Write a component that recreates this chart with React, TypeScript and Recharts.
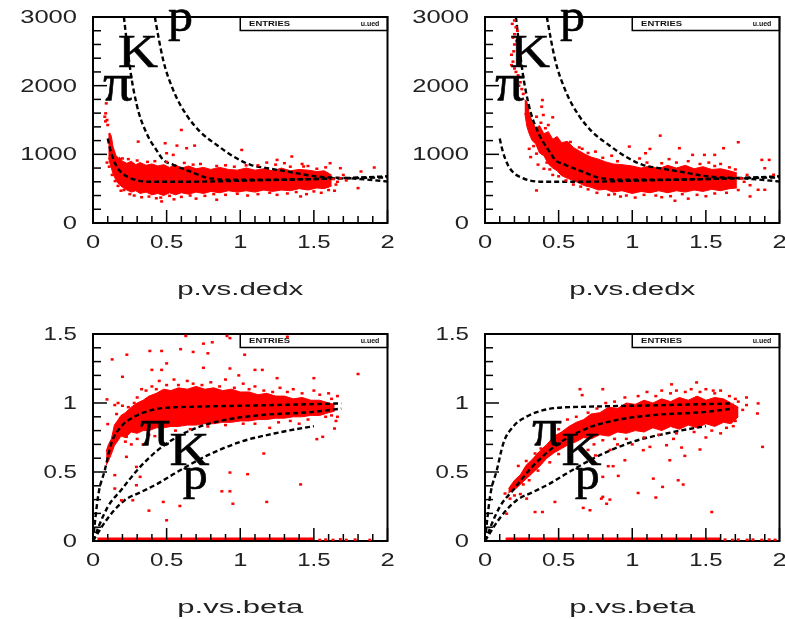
import { ComposedChart, Area, Line, Scatter, XAxis, YAxis, ReferenceArea, ReferenceDot, Label } from 'recharts';

type Pt = { x: number; y: number };
const pts = (rows: number[][]): Pt[] => rows.map(([x, y]) => ({ x, y }));
const band = (rows: number[][]) => rows.map(([x, low, high]) => ({ x, range: [low, high] }));

const xTicks = [0, 0.1, 0.2, 0.3, 0.4, 0.5, 0.6, 0.7, 0.8, 0.9, 1, 1.1, 1.2, 1.3, 1.4, 1.5, 1.6, 1.7, 1.8, 1.9, 2];
const dedxTicks = [0, 200, 400, 600, 800, 1000, 1200, 1400, 1600, 1800, 2000, 2200, 2400, 2600, 2800, 3000];
const betaTicks = [0, 0.1, 0.2, 0.3, 0.4, 0.5, 0.6, 0.7, 0.8, 0.9, 1, 1.1, 1.2, 1.3, 1.4, 1.5];

// theory curves, dE/dx
const dedxPi = pts([[0.1, 1230], [0.12, 1050], [0.15, 870], [0.2, 720], [0.25, 660], [0.3, 620], [0.4, 600], [0.6, 600], [0.8, 605], [1, 615], [1.5, 640], [2, 665]]);
const dedxK = pts([[0.21, 3000], [0.26, 2130], [0.295, 1740], [0.364, 1306], [0.43, 1065], [0.477, 920], [0.545, 847], [0.66, 750], [0.795, 650], [0.95, 630], [1.18, 630], [1.64, 650], [2, 680]]);
const dedxP = pts([[0.42, 3000], [0.477, 2370], [0.545, 1935], [0.636, 1570], [0.727, 1330], [0.84, 1137], [0.955, 968], [1.07, 847], [1.18, 800], [1.32, 750], [1.52, 677], [1.75, 650], [2, 605]]);

// theory curves, beta
const betaPi = pts([[0, 0], [0.034, 0.32], [0.08, 0.513], [0.124, 0.706], [0.19, 0.827], [0.28, 0.9], [0.396, 0.948], [0.53, 0.968], [0.69, 0.973], [1.23, 0.985], [1.686, 0.997]]);
const betaK = pts([[0, 0], [0.1, 0.247], [0.19, 0.368], [0.3, 0.513], [0.44, 0.658], [0.554, 0.743], [0.69, 0.815], [0.89, 0.876], [1.14, 0.912], [1.5, 0.936], [1.686, 0.96]]);
const betaP = pts([[0, 0], [0.124, 0.198], [0.215, 0.295], [0.328, 0.356], [0.44, 0.416], [0.554, 0.489], [0.78, 0.622], [1, 0.718], [1.23, 0.779], [1.5, 0.832]]);

// dense part of each cloud: x, low, high
const coreA = band([[0.105, 950, 1300], [0.115, 870, 1310], [0.125, 800, 1260], [0.135, 720, 1120], [0.15, 650, 1020], [0.165, 590, 930], [0.18, 560, 960], [0.2, 520, 900], [0.23, 480, 870], [0.26, 450, 900], [0.29, 470, 850], [0.32, 430, 880], [0.36, 450, 840], [0.4, 410, 860], [0.44, 430, 830], [0.48, 400, 850], [0.52, 440, 810], [0.56, 410, 850], [0.6, 440, 800], [0.65, 420, 830], [0.7, 450, 790], [0.75, 430, 810], [0.8, 460, 780], [0.86, 440, 810], [0.92, 470, 780], [0.98, 450, 770], [1.04, 470, 800], [1.1, 450, 770], [1.16, 480, 790], [1.22, 460, 760], [1.28, 480, 800], [1.34, 470, 760], [1.4, 500, 780], [1.46, 480, 770], [1.52, 510, 750], [1.57, 500, 760], [1.62, 540, 700]]);
const coreB = band([[0.27, 1600, 1800], [0.285, 1400, 1760], [0.3, 1300, 1600], [0.32, 1200, 1480], [0.345, 1150, 1380], [0.37, 1020, 1420], [0.4, 980, 1300], [0.43, 860, 1330], [0.46, 800, 1220], [0.49, 760, 1260], [0.52, 690, 1170], [0.56, 650, 1190], [0.6, 620, 1100], [0.64, 580, 1050], [0.68, 540, 1000], [0.72, 520, 960], [0.77, 480, 930], [0.82, 490, 890], [0.87, 450, 860], [0.93, 470, 850], [1, 430, 830], [1.06, 460, 800], [1.12, 440, 830], [1.18, 470, 790], [1.24, 440, 840], [1.3, 470, 800], [1.36, 450, 840], [1.42, 480, 790], [1.48, 460, 820], [1.54, 490, 780], [1.6, 470, 790], [1.66, 500, 760], [1.71, 510, 730]]);
const coreC = band([[0.09, 0.55, 0.65], [0.105, 0.58, 0.7], [0.125, 0.63, 0.74], [0.145, 0.69, 0.84], [0.165, 0.72, 0.87], [0.19, 0.76, 0.91], [0.22, 0.75, 0.93], [0.26, 0.79, 0.97], [0.3, 0.78, 1], [0.34, 0.8, 1.02], [0.38, 0.8, 1.05], [0.43, 0.82, 1.07], [0.48, 0.82, 1.1], [0.53, 0.83, 1.09], [0.58, 0.83, 1.11], [0.64, 0.84, 1.1], [0.7, 0.84, 1.12], [0.76, 0.85, 1.1], [0.82, 0.85, 1.11], [0.88, 0.86, 1.09], [0.94, 0.86, 1.1], [1, 0.87, 1.08], [1.06, 0.87, 1.08], [1.12, 0.88, 1.06], [1.18, 0.88, 1.07], [1.24, 0.89, 1.05], [1.3, 0.89, 1.05], [1.36, 0.9, 1.03], [1.42, 0.9, 1.04], [1.48, 0.91, 1.02], [1.54, 0.91, 1.02], [1.6, 0.93, 1], [1.64, 0.94, 0.99]]);
const coreD = band([[0.16, 0.35, 0.38], [0.2, 0.37, 0.44], [0.24, 0.41, 0.48], [0.28, 0.45, 0.55], [0.32, 0.49, 0.59], [0.37, 0.54, 0.65], [0.42, 0.6, 0.7], [0.47, 0.64, 0.76], [0.52, 0.67, 0.79], [0.57, 0.7, 0.83], [0.62, 0.72, 0.86], [0.67, 0.75, 0.88], [0.72, 0.74, 0.92], [0.78, 0.77, 0.93], [0.84, 0.76, 0.97], [0.9, 0.79, 0.96], [0.96, 0.78, 1], [1.02, 0.8, 0.99], [1.08, 0.79, 1.02], [1.14, 0.82, 1], [1.2, 0.8, 1.03], [1.26, 0.83, 1.01], [1.32, 0.81, 1.04], [1.38, 0.84, 1.02], [1.44, 0.82, 1.05], [1.5, 0.85, 1.02], [1.56, 0.83, 1.04], [1.62, 0.86, 1.03], [1.67, 0.85, 1], [1.72, 0.9, 0.97]]);

// stray hits and the loose fringe round the dense part
const dotsA = pts([[0.08, 1548], [0.086, 1597], [0.095, 1500], [0.09, 1742], [0.1, 1427], [0.085, 1480], [0.095, 880], [0.11, 820], [0.6, 1355], [0.307, 1185], [0.49, 1161], [0.57, 1127], [0.69, 1127], [1.01, 1064], [1.35, 968], [1.25, 919], [1.61, 871], [1.91, 808], [1.82, 750], [1.68, 798], [0.466, 314], [1.8, 508], [0.84, 339], [1.41, 387], [0.545, 992], [0.5, 1016], [1.3, 871], [1.43, 823], [0.636, 1089], [0.16, 950], [0.2, 940], [0.37, 890], [0.55, 345], [0.43, 360], [0.7, 355], [1.05, 400], [1.25, 410], [1.45, 420], [1.55, 440], [1.6, 480], [1.65, 560], [1.68, 650], [1.7, 700], [1.64, 470], [1.58, 810], [1.12, 840], [0.73, 860], [0.9, 840], [1.18, 880], [1.46, 830], [0.33, 375], [0.25, 420], [0.19, 470], [0.28, 400], [0.38, 385], [0.46, 370], [0.52, 395], [0.6, 380], [0.66, 400], [0.76, 395], [0.82, 420], [0.9, 410], [0.98, 425], [1.12, 420], [1.2, 440], [1.32, 430], [1.38, 450], [1.5, 460], [1.59, 530], [1.63, 640], [1.66, 600], [1.72, 620], [0.24, 930], [0.3, 910], [0.42, 900], [0.5, 890], [0.62, 875], [0.68, 850], [0.84, 830], [0.96, 820], [1.04, 840], [1.24, 850], [1.34, 820], [1.52, 790], [1.42, 860], [0.13, 700], [0.15, 610], [0.17, 540], [0.21, 480]]);
const dotsB = pts([[0.2, 2950], [0.21, 2850], [0.19, 2700], [0.2, 2600], [0.18, 2450], [0.19, 2350], [0.21, 2200], [0.225, 2150], [0.24, 2050], [0.25, 1950], [0.22, 2800], [0.185, 2900], [0.18, 2300], [0.2, 2250], [0.215, 2650], [0.2, 2750], [0.195, 2500], [0.23, 2000], [0.26, 1880], [1.19, 1272], [1.72, 1176], [0.35, 474], [1.88, 919], [1.93, 919], [1.9, 798], [1.96, 702], [1.8, 387], [1.29, 324], [1.62, 1089], [0.98, 1113], [1.12, 1079], [1.32, 1089], [1.56, 992], [1.41, 992], [1.49, 992], [1.09, 1016], [0.46, 1539], [0.43, 1427], [0.39, 1790], [0.35, 1548], [1.855, 484], [1.9, 484], [0.396, 1573], [0.385, 1694], [0.3, 1080], [0.31, 960], [0.36, 850], [0.4, 790], [0.46, 700], [1.05, 940], [0.86, 980], [0.75, 1040], [0.66, 1080], [1.25, 930], [1.38, 900], [1.52, 880], [1.6, 860], [1.02, 370], [1.2, 375], [1.38, 355], [1.5, 390], [0.84, 410], [0.92, 385], [1.76, 600], [1.8, 550], [1.78, 700], [0.32, 1400], [0.34, 1290], [0.38, 1460], [0.41, 1380], [0.33, 1120], [0.35, 1010], [0.42, 880], [0.44, 780], [0.5, 680], [0.55, 620], [0.6, 560], [0.65, 530], [0.7, 490], [0.76, 440], [0.88, 420], [0.96, 400], [1.08, 410], [1.16, 400], [1.26, 390], [1.34, 420], [1.44, 410], [1.56, 430], [1.64, 440], [1.72, 480], [1.74, 650], [0.58, 1180], [0.64, 1100], [0.7, 1020], [0.8, 950], [0.9, 900], [1.1, 880], [1.2, 870], [1.3, 880], [1.46, 860], [1.56, 830], [1.66, 810], [1.7, 780]]);
const dotsC = pts([[0.63, 1.486], [0.91, 1.486], [0.93, 1.47], [1.32, 1.48], [0.75, 1.43], [0.81, 1.44], [0.595, 1.39], [0.68, 1.37], [0.386, 1.377], [0.466, 1.377], [0.23, 1.35], [0.13, 1.316], [0.78, 1.36], [1.03, 1.35], [0.5, 1.287], [0.4, 1.24], [0.466, 1.24], [0.75, 1.255], [0.93, 1.25], [1.1, 1.24], [1.15, 1.24], [0.2, 1.19], [1.8, 1.21], [0.99, 1.2], [1.25, 1.18], [1.5, 1.18], [0.095, 1.026], [0.148, 0.985], [0.1, 0.847], [0.227, 0.755], [0.227, 0.61], [0.148, 0.477], [0.295, 0.537], [0.32, 0.465], [0.295, 0.404], [0.148, 0.38], [0.193, 0.295], [0.27, 0.295], [0.38, 0.22], [0.477, 0.283], [0.59, 0.254], [0.5, 0.15], [0.875, 0.36], [0.93, 0.36], [0.93, 0.496], [1.05, 0.484], [0.95, 0.27], [1.18, 0.283], [1.41, 0.41], [1.16, 0.634], [1.52, 0.738], [1.64, 0.815], [1.56, 0.755], [1.66, 0.9], [0.33, 1.1], [0.4, 1.12], [0.45, 1.16], [0.55, 1.17], [0.64, 1.16], [0.8, 1.15], [0.9, 1.17], [1.02, 1.14], [1.1, 1.12], [1.27, 1.11], [1.36, 1.1], [1.5, 1.09], [1.6, 1.07], [1.66, 1.05], [0.17, 1], [0.2, 0.98], [0.3, 1.04], [0.26, 0.7], [0.34, 0.7], [0.42, 0.76], [1.2, 0.82], [1.4, 0.85], [1.65, 0.87], [0.36, 1.09], [0.43, 1.1], [0.5, 1.13], [0.58, 1.13], [0.68, 1.14], [0.74, 1.13], [0.86, 1.12], [0.96, 1.11], [1.06, 1.1], [1.16, 1.09], [1.22, 1.08], [1.32, 1.08], [1.42, 1.07], [1.54, 1.06], [1.62, 1.03], [0.28, 1], [0.24, 0.97], [0.16, 0.92], [0.22, 0.72], [0.3, 0.74], [0.38, 0.77], [0.46, 0.79], [0.56, 0.8], [0.66, 0.81], [0.78, 0.83], [0.9, 0.84], [1.02, 0.85], [1.1, 0.85], [1.26, 0.86], [1.34, 0.87], [1.46, 0.88], [1.58, 0.9], [1.62, 0.91]]);
const dotsD = pts([[0.645, 1.1], [0.8, 1.1], [0.66, 1.057], [0.226, 0.544], [0.34, 0.634], [1.437, 1.149], [1.267, 1.135], [1.855, 0.997], [1.85, 0.924], [1.885, 0.682], [1.54, 0.21], [1.04, 0.348], [1.16, 0.315], [1.206, 0.392], [1.143, 0.452], [1.312, 0.44], [1.346, 0.409], [0.34, 0.21], [0.39, 0.21], [0.475, 0.283], [0.667, 0.24], [0.713, 0.223], [0.8, 0.32], [0.848, 0.3], [0.826, 0.27], [0.79, 0.307], [0.905, 0.472], [0.837, 0.542], [0.87, 0.542], [0.8, 0.465], [0.95, 0.585], [1.255, 0.585], [1.357, 0.617], [1.46, 0.663], [1.12, 0.682], [1.233, 0.694], [1.075, 0.658], [1.335, 0.677], [1.776, 1.04], [1.776, 0.985], [1.686, 0.832], [1.55, 1.09], [0.136, 0.344], [0.17, 0.307], [0.283, 0.307], [0.147, 0.198], [0.7, 0.66], [0.75, 0.62], [0.85, 0.66], [0.9, 0.7], [1, 0.7], [1.28, 0.74], [1.5, 0.75], [1.6, 0.78], [1.3, 1.09], [1.4, 1.1], [1.5, 1.1], [1.6, 1.09], [1.7, 1.03], [0.95, 1.04], [1.1, 1.08], [1.2, 1.09], [0.62, 0.9], [0.56, 0.88], [0.7, 0.93], [0.76, 0.96], [0.82, 1], [0.88, 1.01], [1.04, 1.05], [1.16, 1.05], [1.26, 1.07], [1.36, 1.08], [1.46, 1.08], [1.56, 1.07], [1.66, 1.05], [1.72, 1.01], [1.75, 0.95], [0.74, 0.7], [0.8, 0.73], [0.88, 0.74], [0.96, 0.74], [1.08, 0.75], [1.18, 0.77], [1.3, 0.78], [1.42, 0.79], [1.54, 0.8], [1.64, 0.82], [1.7, 0.87], [0.26, 0.41], [0.3, 0.44], [0.36, 0.51], [0.44, 0.57], [0.5, 0.63], [0.58, 0.66], [0.24, 0.34], [0.2, 0.33], [0.28, 0.58], [0.38, 0.67], [0.5, 0.81]]);

// red pile-up at zero beta
const zeroLineC = pts([[0.03, 0.012], [1.5, 0.012]]);
const zeroDotsC = pts([[1.54, 0.008], [1.58, 0.01], [1.63, 0.008], [1.68, 0.012], [1.72, 0.008], [1.78, 0.01], [1.88, 0.008]]);
const zeroLineD = pts([[0.14, 0.012], [1.6, 0.012]]);
const zeroDotsD = pts([[1.63, 0.01], [1.68, 0.008], [1.72, 0.01], [1.78, 0.008], [1.82, 0.01], [1.88, 0.008], [1.93, 0.01], [1.97, 0.008]]);

const dedxMarks = [
  { text: 'π', x: 0.068, y: 1791, w: 30 },
  { text: 'K', x: 0.17, y: 2272, w: 40 },
  { text: 'p', x: 0.51, y: 2796, w: 25 },
];
const betaMarks = [
  { text: 'π', x: 0.32, y: 0.694, w: 30 },
  { text: 'K', x: 0.52, y: 0.55, w: 40 },
  { text: 'p', x: 0.61, y: 0.38, w: 25 },
];

const SANS = '"Liberation Sans", Arial, sans-serif';
const SERIF = '"Liberation Serif", serif';

// the original glyphs are stretched sideways, textLength does the same
const labelWidth = (s: string) => s.replace('.', '').length * 14.2 + (s.includes('.') ? 5 : 0);

const XTick = ({ x, y, payload, index }: any) => {
  const major = index % 5 === 0;
  const s = String(payload.value);
  return (
    <g>
      <line x1={x} x2={x} y1={y} y2={y - (major ? 13 : 7)} stroke="#000" strokeWidth={1.5} />
      {major && (
        <text x={x} y={y + 25} textAnchor="middle" fontFamily={SANS} fontSize={18} fill="#222" textLength={labelWidth(s)} lengthAdjust="spacingAndGlyphs">
          {s}
        </text>
      )}
    </g>
  );
};

const YTick = ({ x, y, payload, index }: any) => {
  const major = index % 5 === 0;
  const s = String(payload.value);
  const w = labelWidth(s);
  return (
    <g>
      <line x1={x} x2={x + (major ? 14 : 8)} y1={y} y2={y} stroke="#000" strokeWidth={1.5} />
      {major && (
        <text x={x - 16 - w} y={y + 6} fontFamily={SANS} fontSize={18} fill="#222" textLength={w} lengthAdjust="spacingAndGlyphs">
          {s}
        </text>
      )}
    </g>
  );
};

const RedDot = ({ cx, cy }: any) => <rect x={cx - 1.5} y={cy - 1.25} width={3} height={2.5} fill="#ff0000" />;

type PanelProps = {
  left: number;
  top: number;
  width: number;
  height: number;
  marginTop: number;
  axisHeight: number;
  title: string;
  yMax: number;
  yTicks: number[];
  core: any[];
  dots: Pt[];
  curves: Pt[][];
  marks: { text: string; x: number; y: number; w: number }[];
  zeroLine?: Pt[];
  zeroDots?: Pt[];
};

const Panel = ({ left, top, width, height, marginTop, axisHeight, title, yMax, yTicks, core, dots, curves, marks, zeroLine, zeroDots }: PanelProps) => (
  <div style={{ position: 'absolute', left, top }}>
    <ComposedChart width={width} height={height} margin={{ top: marginTop, right: width - 93 - 294.5, bottom: 0, left: 0 }}>
      <XAxis
        type="number"
        dataKey="x"
        domain={[0, 2]}
        ticks={xTicks}
        interval={0}
        height={axisHeight}
        tickSize={0}
        tickMargin={0}
        tick={XTick}
        stroke="#000"
        strokeWidth={2}
        allowDataOverflow
      >
        <Label
          content={({ viewBox }: any) => (
            <text x={viewBox.x + viewBox.width / 2} y={viewBox.y + 72} textAnchor="middle" fontFamily={SANS} fontSize={18} fill="#222" textLength={title.length * 14} lengthAdjust="spacingAndGlyphs">
              {title}
            </text>
          )}
        />
      </XAxis>
      <YAxis type="number" domain={[0, yMax]} ticks={yTicks} interval={0} width={93} tickSize={0} tickMargin={0} tick={YTick} stroke="#000" strokeWidth={2} allowDataOverflow />
      <Area data={core} dataKey="range" type="linear" fill="#ff0000" fillOpacity={1} stroke="#ff0000" strokeWidth={1} dot={false} activeDot={false} isAnimationActive={false} />
      <Scatter data={dots} dataKey="y" shape={RedDot} isAnimationActive={false} />
      {zeroLine && <Line data={zeroLine} dataKey="y" stroke="#ff0000" strokeWidth={3.5} dot={false} activeDot={false} isAnimationActive={false} />}
      {zeroDots && <Scatter data={zeroDots} dataKey="y" shape={RedDot} isAnimationActive={false} />}
      {curves.map((c, i) => (
        <Line key={i} data={c} dataKey="y" type="monotone" stroke="#000" strokeWidth={2.4} strokeDasharray="5 3" dot={false} activeDot={false} isAnimationActive={false} />
      ))}
      <ReferenceArea x1={1} x2={2} y1={yMax * 0.935} y2={yMax} fill="#fff" fillOpacity={1} stroke="#000" strokeWidth={1.5} />
      <ReferenceArea x1={0} x2={2} y1={0} y2={yMax} fill="none" stroke="#000" strokeWidth={2} />
      <ReferenceDot
        x={1.06}
        y={yMax * 0.955}
        shape={({ cx, cy }: any) => (
          <text x={cx} y={cy} fontFamily={SANS} fontSize={7} fontWeight="bold" fill="#111" textLength={41} lengthAdjust="spacingAndGlyphs">
            ENTRIES
          </text>
        )}
      />
      <ReferenceDot
        x={1.945}
        y={yMax * 0.955}
        shape={({ cx, cy }: any) => (
          <text x={cx} y={cy} textAnchor="end" fontFamily={SANS} fontSize={7} fontWeight="bold" fill="#111">
            u.ued
          </text>
        )}
      />
      {marks.map((m) => (
        <ReferenceDot
          key={m.text}
          x={m.x}
          y={m.y}
          shape={({ cx, cy }: any) => (
            <text x={cx} y={cy} fontFamily={SERIF} fontSize={m.text === 'π' ? 52 : 47} fill="#000" stroke="#000" strokeWidth={0.6} textLength={m.w} lengthAdjust="spacingAndGlyphs">
              {m.text}
            </text>
          )}
        />
      ))}
    </ComposedChart>
  </div>
);

export default function App() {
  return (
    <div style={{ position: 'absolute', left: 0, top: 0, width: 785, height: 619, overflow: 'hidden', background: '#fff', filter: 'blur(0.4px)' }}>
      <Panel left={0} top={0} width={398} height={310} marginTop={17} axisHeight={87} title="p.vs.dedx" yMax={3000} yTicks={dedxTicks} core={coreA} dots={dotsA} curves={[dedxPi, dedxK, dedxP]} marks={dedxMarks} />
      <Panel left={392} top={0} width={393} height={310} marginTop={17} axisHeight={87} title="p.vs.dedx" yMax={3000} yTicks={dedxTicks} core={coreB} dots={dotsB} curves={[dedxPi, dedxK, dedxP]} marks={dedxMarks} />
      <Panel left={0} top={310} width={398} height={309} marginTop={24} axisHeight={78} title="p.vs.beta" yMax={1.5} yTicks={betaTicks} core={coreC} dots={dotsC} curves={[betaPi, betaK, betaP]} marks={betaMarks} zeroLine={zeroLineC} zeroDots={zeroDotsC} />
      <Panel left={392} top={310} width={393} height={309} marginTop={24} axisHeight={78} title="p.vs.beta" yMax={1.5} yTicks={betaTicks} core={coreD} dots={dotsD} curves={[betaPi, betaK, betaP]} marks={betaMarks} zeroLine={zeroLineD} zeroDots={zeroDotsD} />
    </div>
  );
}
